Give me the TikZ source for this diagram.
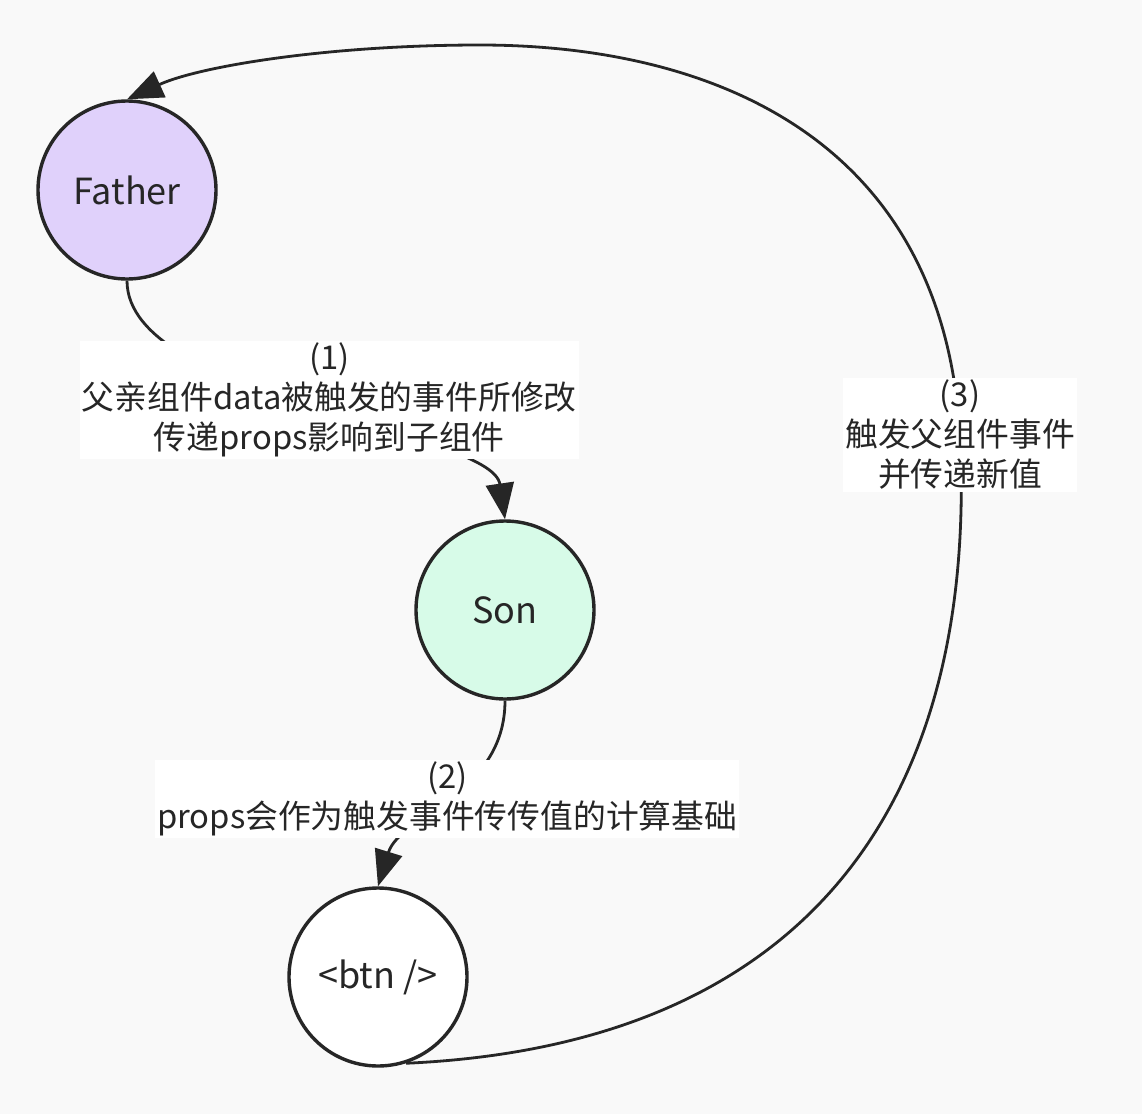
\documentclass[tikz,border=0pt]{standalone}
\usepackage{fontspec}
\setmainfont{Noto Sans CJK SC}
\usepackage{xcolor}
\usepackage{tikz}
\usetikzlibrary{arrows.meta}
\definecolor{bgcol}{RGB}{249,249,249}
\definecolor{fathercol}{RGB}{224,209,251}
\definecolor{soncol}{RGB}{215,251,232}
\definecolor{inkcol}{RGB}{38,38,38}

\begin{document}
\begin{tikzpicture}[x=0.5pt, y=-0.5pt,
    comp/.style={circle, draw=inkcol, line width=1.7pt, minimum size=89pt, inner sep=0pt, text=inkcol, font=\fontsize{18}{20}\selectfont},
    link/.style={draw=inkcol, line width=1.4pt, -{Triangle[length=18pt,width=14pt]}},
    lbl/.style={fill=white, inner sep=1pt, align=center, text=inkcol, font=\fontsize{16.4}{20}\selectfont}]
    \fill[bgcol] (0,0) rectangle (1142,1114);
    \useasboundingbox (0,0) rectangle (1142,1114);
    \node[comp, fill=fathercol] (father) at (127,190) {Father};
    \node[comp, fill=soncol] (son) at (505,610) {Son};
    \node[comp, fill=white] (btn) at (378,977) {<btn />};
    \draw[link] (father.south) .. controls (127,400) and (492,430) ..
      node[lbl, pos=0.52, xshift=3.5pt, yshift=7.5pt] (note1) {(1)\\父亲组件data被触发的事件所修改\\传递props影响到子组件} (son.north);
    \draw[link] (son.south) .. controls (505,795) and (400,815) ..
      node[lbl, pos=0.48, xshift=-3pt] (note2) {(2)\\props会作为触发事件传传值的计算基础} (btn.north);
    \draw[link] (btn.-72) .. controls (810,1045) and (978,800) .. (960,435)
      node[lbl] (note3) {(3)\\触发父组件事件\\并传递新值}
      .. controls (942,130) and (700,45) .. (480,45)
      .. controls (330,45) and (200,66) .. (father.north);
  \end{tikzpicture}
\end{document}
